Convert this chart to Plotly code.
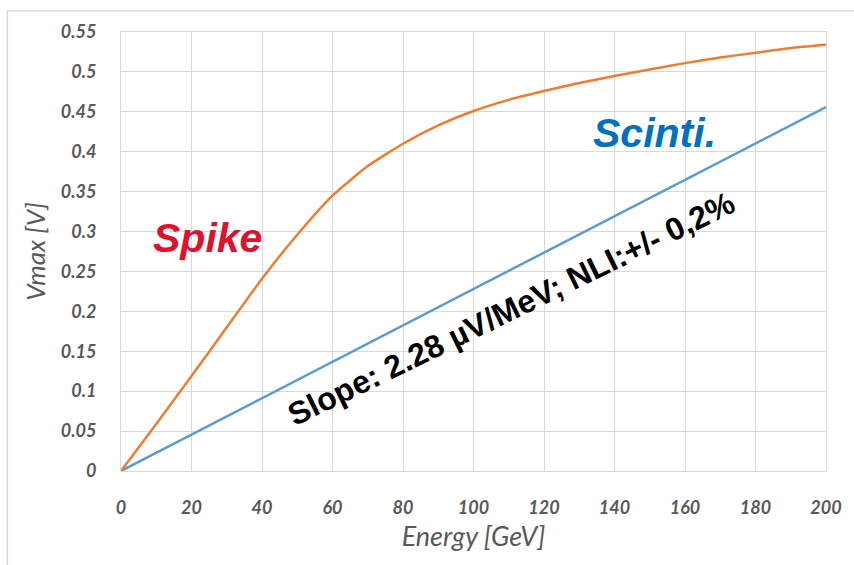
import plotly.graph_objects as go

# Data
energy_spike = [0, 10, 20, 30, 40, 50, 60, 70, 80, 90, 100, 110, 120, 130, 140, 150, 160, 170, 180, 190, 200]
vmax_spike = [0.0, 0.059, 0.119, 0.180, 0.241, 0.296, 0.345, 0.382, 0.410, 0.433, 0.451, 0.465, 0.476,
              0.486, 0.495, 0.503, 0.511, 0.518, 0.524, 0.530, 0.534]
energy_scinti = [0, 200]
vmax_scinti = [0.0, 0.456]

x_ticks = [0, 20, 40, 60, 80, 100, 120, 140, 160, 180, 200]
y_ticks = [0, 0.05, 0.1, 0.15, 0.2, 0.25, 0.3, 0.35, 0.4, 0.45, 0.5, 0.55]
y_tick_text = ["0", "0.05", "0.1", "0.15", "0.2", "0.25", "0.3", "0.35", "0.4", "0.45", "0.5", "0.55"]

GRID = "#d9d9d9"
TXT = "#595959"

fig = go.Figure()
fig.add_trace(go.Scatter(x=energy_scinti, y=vmax_scinti, mode="lines",
                         line=dict(color="#5B9BD5", width=2.5), showlegend=False))
fig.add_trace(go.Scatter(x=energy_spike, y=vmax_spike, mode="lines",
                         line=dict(color="#ED7D31", width=2.5, shape="spline", smoothing=0.5),
                         showlegend=False))

fig.update_layout(
    width=854, height=565,
    margin=dict(l=121, r=26, t=32, b=94),
    paper_bgcolor="white", plot_bgcolor="white",
    font=dict(family="Lato", color=TXT),
    xaxis=dict(range=[0, 200], tickvals=x_ticks, showgrid=True, gridcolor=GRID, gridwidth=1,
               showline=True, linecolor=GRID, linewidth=1, mirror=True, zeroline=False,
               ticks="", ticklabelstandoff=20,
               tickfont=dict(family="Lato", size=18, color=TXT, weight="bold", style="italic"),
               title=dict(text="Energy [GeV]", standoff=10,
                          font=dict(family="Lato", size=27, color=TXT, style="italic"))),
    yaxis=dict(range=[0, 0.55], tickvals=y_ticks, ticktext=y_tick_text, showgrid=True,
               gridcolor=GRID, gridwidth=1, showline=True, linecolor=GRID, linewidth=1,
               mirror=True, zeroline=False, ticks="", ticklabelstandoff=20,
               tickfont=dict(family="Lato", size=18, color=TXT, weight="bold", style="italic"),
               title=dict(text="Vmax [V]", standoff=7,
                          font=dict(family="Lato", size=26, color=TXT, style="italic"))),
    shapes=[dict(type="rect", xref="paper", yref="paper", x0=-0.1612, x1=1.2, y0=-0.5, y1=1.0478,
                 line=dict(color=GRID, width=1.5), fillcolor="rgba(0,0,0,0)", layer="below")],
    annotations=[
        dict(x=24.5, y=0.292, xref="x", yref="y", text="<b><i>Spike</i></b>", showarrow=False,
             font=dict(family="Liberation Sans", size=41, color="#E0102F"),
             xanchor="center", yanchor="middle"),
        dict(x=151.3, y=0.4235, xref="x", yref="y", text="<b><i>Scinti.</i></b>", showarrow=False,
             font=dict(family="Liberation Sans", size=41, color="#0070C0"),
             xanchor="center", yanchor="middle"),
        dict(x=110.5, y=0.2035, xref="x", yref="y", text="<b>Slope: 2.28 µV/MeV; NLI:+/- 0,2%</b>",
             showarrow=False, textangle=-26,
             font=dict(family="Liberation Sans", size=32, color="black"),
             xanchor="center", yanchor="middle"),
    ],
)

fig.write_html("out.html")
